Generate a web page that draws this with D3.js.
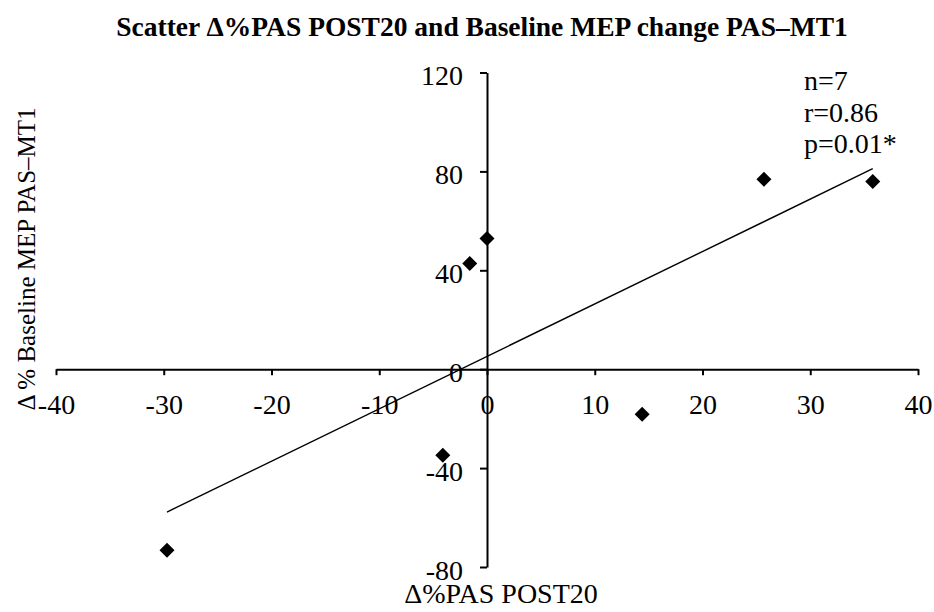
<!DOCTYPE html>
<html>
<head>
<meta charset="utf-8">
<script src="https://cdn.jsdelivr.net/npm/d3@7"></script>
<style>
  html, body { margin: 0; padding: 0; background: #fff; }
  svg { display: block; font-family: "Liberation Serif", "Times New Roman", serif; }
</style>
</head>
<body>
<svg id="chart" width="934" height="612"></svg>
<script>
// Δ%PAS POST20 (x) against Δ% baseline MEP PAS–MT1 (y), one point per subject
const pasPost20 = [-29.7, -4.1, -1.6, 0.0, 14.4, 25.7, 35.8];
const mepChange = [-73.2, -34.8, 42.8, 52.9, -18.2, 76.8, 75.9];

const xTicks = [-40, -30, -20, -10, 0, 10, 20, 30, 40];
const yTicks = [-80, -40, 0, 40, 80, 120];

const statLines = ["n=7", "r=0.86", "p=0.01*"];

const titleText = "Scatter Δ%PAS POST20 and Baseline MEP change PAS–MT1";
const xTitle = "Δ%PAS POST20";
const yTitle = "Δ % Baseline MEP PAS–MT1";

const svg = d3.select("#chart");

const x = d3.scaleLinear().domain([-40, 40]).range([56, 918]);
const y = d3.scaleLinear().domain([-80, 120]).range([567, 72.5]);

const points = pasPost20.map((v, i) => ({ x: v, y: mepChange[i] }));

// Least-squares trend line over the observed x range
const mx = d3.mean(pasPost20), my = d3.mean(mepChange);
const sxy = d3.sum(points, p => (p.x - mx) * (p.y - my));
const sxx = d3.sum(points, p => (p.x - mx) ** 2);
const slope = sxy / sxx, intercept = my - slope * mx;
const [xmin, xmax] = d3.extent(pasPost20);

// Plain hyphen for negatives
const fmt = d => String(d);

// Title
svg.append("text")
  .attr("x", 482).attr("y", 36)
  .attr("text-anchor", "middle")
  .attr("font-weight", "bold")
  .attr("font-size", 27.5)
  .text(titleText);

// X axis through y = 0, ticks pointing down
const xAxis = svg.append("g")
  .attr("transform", `translate(0,${y(0)})`)
  .call(d3.axisBottom(x).tickValues(xTicks).tickSize(6).tickSizeOuter(0).tickFormat(fmt));

// Y axis through x = 0, ticks pointing left
const yAxis = svg.append("g")
  .attr("transform", `translate(${x(0)},0)`)
  .call(d3.axisLeft(y).tickValues(yTicks).tickSize(7).tickPadding(17).tickSizeOuter(0).tickFormat(fmt));

[xAxis, yAxis].forEach(g => {
  g.select(".domain").attr("stroke", "#000").attr("stroke-width", 2);
  g.selectAll(".tick line").attr("stroke", "#000").attr("stroke-width", 2);
  g.selectAll(".tick text")
    .attr("fill", "#000")
    .attr("font-size", 28)
    .attr("font-family", "Liberation Serif, Times New Roman, serif");
});
xAxis.selectAll(".tick text").attr("y", 45).attr("dy", 0);
yAxis.selectAll(".tick text").attr("dy", 12);

// Trend line
svg.append("line")
  .attr("x1", x(xmin)).attr("y1", y(intercept + slope * xmin))
  .attr("x2", x(xmax)).attr("y2", y(intercept + slope * xmax))
  .attr("stroke", "#000").attr("stroke-width", 1.4);

// Diamond markers
const r = 7.5;
svg.append("g").selectAll("path")
  .data(points)
  .join("path")
  .attr("d", d => {
    const cx = x(d.x), cy = y(d.y);
    return `M${cx},${cy - r}L${cx + r},${cy}L${cx},${cy + r}L${cx - r},${cy}Z`;
  })
  .attr("fill", "#000");

// Statistics annotation
svg.append("g").selectAll("text")
  .data(statLines)
  .join("text")
  .attr("x", 804)
  .attr("y", (d, i) => 90 + i * 31.5)
  .attr("font-size", 28)
  .text(d => d);

// Axis titles
svg.append("text")
  .attr("x", 501).attr("y", 603)
  .attr("text-anchor", "middle")
  .attr("font-size", 28)
  .text(xTitle);

svg.append("text")
  .attr("transform", "translate(35,259) rotate(-90)")
  .attr("text-anchor", "middle")
  .attr("font-size", 25)
  .text(yTitle);
</script>
</body>
</html>
